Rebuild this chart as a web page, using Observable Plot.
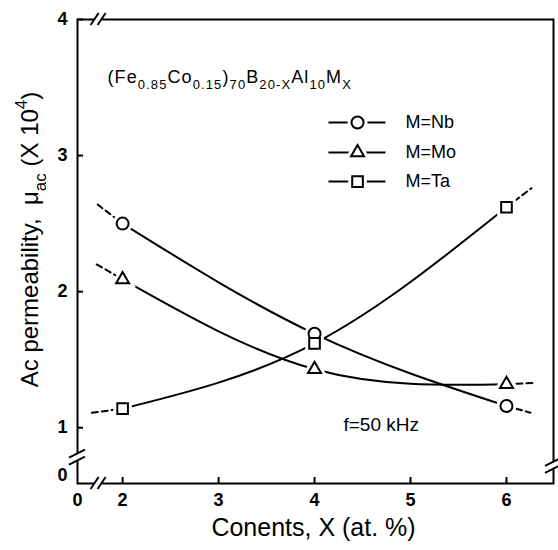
<!DOCTYPE html>
<html><head><meta charset="utf-8">
<script src="https://cdn.jsdelivr.net/npm/d3@7"></script>
<script src="https://cdn.jsdelivr.net/npm/@observablehq/plot@0.6"></script>
<style>
body{margin:0;background:#fff}
#chart svg{font-family:"Liberation Sans",Arial,sans-serif}
</style>
</head><body><div id="chart"></div>
<script>
// ---- data ----
const contents = [2, 4, 6];
const seriesNames = ["M=Nb", "M=Mo", "M=Ta"];
const symbolNames = ["circle", "triangle", "square"];
const nbValues = [2.50, 1.69, 1.16];
const moValues = [2.09, 1.43, 1.32];
const taValues = [1.14, 1.62, 2.62];
// dashed extrapolations: [left end, right end] as [x, y]
const nbExt = [[1.74, 2.64], [6.25, 1.11]];
const moExt = [[1.73, 2.20], [6.30, 1.33]];
const taExt = [[1.68, 1.11], [6.26, 2.76]];
const xTicks = [2, 3, 4, 5, 6];
const yTicks = [1, 2, 3, 4];
const xDomain = [1.53, 6.49];
const yDomain = [0.59, 4];
// broken-axis marks (data positions)
const xBreak = 1.75;
const yBreakLeft = 0.78;
const yBreakRight = 0.72;
// legend placement (data coords)
const legendY = [3.243, 3.023, 2.809];
const legendX = {start: 4.145, marker: 4.448, end: 4.739, text: 4.948};
// marker radii per symbol
const markerR = [6, 4.8, 6];

// ---- tables ----
const seriesVals = [nbValues, moValues, taValues];
const seriesExt = [nbExt, moExt, taExt];
const points = seriesNames.flatMap((name, k) =>
  contents.map((c, i) => ({series: name, x: c, y: seriesVals[k][i]})));
const extRows = seriesNames.flatMap((name, k) => {
  const v = seriesVals[k], e = seriesExt[k];
  return [
    {z: name + "L", x: e[0][0], y: e[0][1]},
    {z: name + "L", x: contents[0], y: v[0]},
    {z: name + "R", x: contents[contents.length - 1], y: v[v.length - 1]},
    {z: name + "R", x: e[1][0], y: e[1][1]}
  ];
});
const legendRows = seriesNames.map((name, i) => ({name, ly: legendY[i]}));

const W = 558, H = 550, mL = 77, mR = 5, mT = 19, mB = 67;
const plotW = W - mL - mR, plotH = H - mT - mB;

function markerMarks(halo) {
  return seriesNames.flatMap((name, k) => {
    const opts = halo
      ? {symbol: symbolNames[k], r: markerR[k], fill: "white", stroke: "white", strokeWidth: 8}
      : {symbol: symbolNames[k], r: markerR[k], fill: "white", stroke: "black", strokeWidth: 2};
    return [
      Plot.dot(points.filter(d => d.series === name), {x: "x", y: "y", ...opts}),
      Plot.dot(legendRows.filter(d => d.name === name), {x: () => legendX.marker, y: "ly", ...opts})
    ];
  });
}

const chart = Plot.plot({
  width: W, height: H,
  marginLeft: mL, marginRight: mR, marginTop: mT, marginBottom: mB,
  style: {background: "white", fontFamily: "Liberation Sans, Arial, sans-serif", color: "black"},
  x: {domain: xDomain},
  y: {domain: yDomain},
  marks: [
    Plot.frame({stroke: "black", strokeWidth: 2}),
    Plot.tickX(xTicks, {x: d => d, insetTop: plotH - 6, strokeWidth: 2}),
    Plot.tickY(yTicks, {y: d => d, insetRight: plotW - 6, strokeWidth: 2}),
    Plot.axisX({ticks: xTicks, tickSize: 0, tickPadding: 10, tickFormat: d => String(d), fontSize: 18, fontWeight: "bold", label: null}),
    Plot.axisY({ticks: yTicks, tickSize: 0, tickPadding: 10, tickFormat: d => String(d), fontSize: 18, fontWeight: "bold", label: null}),
    Plot.text(["0"], {frameAnchor: "bottom-left", textAnchor: "middle", lineAnchor: "top", dy: 10, fontSize: 18, fontWeight: "bold"}),
    Plot.text(["0"], {frameAnchor: "bottom-left", dx: -10, dy: -3, textAnchor: "end", fontSize: 18, fontWeight: "bold"}),
    // curves
    Plot.line(points, {x: "x", y: "y", z: "series", curve: "natural", stroke: "black", strokeWidth: 2}),
    Plot.line(extRows, {x: "x", y: "y", z: "z", stroke: "black", strokeWidth: 2, strokeDasharray: "6,4"}),
    // legend lines
    Plot.link(legendRows, {x1: () => legendX.start, x2: () => legendX.end, y1: "ly", y2: "ly", stroke: "black", strokeWidth: 2}),
    // halos + markers
    ...markerMarks(true),
    ...markerMarks(false),
    Plot.text(legendRows, {x: () => legendX.text, y: "ly", text: "name", textAnchor: "start", fontSize: 18, letterSpacing: 1}),
    // annotations
    Plot.text(["FORMULA"], {frameAnchor: "top-left", dx: 30, dy: 51, textAnchor: "start", fontSize: 18}),
    Plot.text(["f=50 kHz"], {frameAnchor: "bottom-left", dx: 266, dy: -53, textAnchor: "start", fontSize: 19, letterSpacing: 0.8}),
    Plot.text(["Conents, X (at. %)"], {frameAnchor: "bottom", textAnchor: "middle", dx: -2, dy: 52, fontSize: 25}),
    Plot.text(["YLABEL"], {frameAnchor: "left", textAnchor: "middle", dx: -47, dy: -12, rotate: -90, fontSize: 24})
  ]
});
document.getElementById("chart").append(chart);

// ---- rich text (sub/superscripts) ----
function rich(placeholder, segs, base) {
  d3.select(chart).selectAll("text").filter(function() { return this.textContent === placeholder; })
    .each(function() {
      const t = d3.select(this);
      t.text(null);
      let shift = 0;
      for (const [s, kind] of segs) {
        const target = kind === "sub" ? 0.32 : kind === "sup" ? -0.45 : 0;
        const ts = t.append("tspan").text(s);
        const dy = (target - shift) * base;
        if (dy) ts.attr("dy", dy);
        if (kind) ts.attr("font-size", Math.round(base * 0.7));
        shift = target;
      }
    });
}
rich("FORMULA", [["(Fe"], ["0.85", "sub"], ["Co"], ["0.15", "sub"], [")"], ["70", "sub"], ["B"], ["20-X", "sub"], ["Al"], ["10", "sub"], ["M"], ["X", "sub"]], 18);
d3.select(chart).selectAll("text").filter(function(){return this.textContent.startsWith("(Fe");}).attr("letter-spacing", 1.1);
rich("YLABEL", [["Ac permeability,  μ"], ["ac", "sub"], [" (X 10"], ["4", "sup"], [")"]], 24);

// ---- axis breaks ----
const sx = chart.scale("x"), sy = chart.scale("y");
const svg = d3.select(chart);
const g = svg.append("g");
const x0 = mL, x1 = W - mR, y0 = mT, y1 = H - mB;
function hBreak(cx, cy) {
  g.append("rect").attr("x", cx - 4).attr("y", cy - 3).attr("width", 8).attr("height", 6).attr("fill", "white");
  for (const o of [-3.5, 3.5]) {
    g.append("line").attr("x1", cx + o - 4).attr("y1", cy + 6).attr("x2", cx + o + 4).attr("y2", cy - 6)
      .attr("stroke", "black").attr("stroke-width", 2);
  }
}
function vBreak(cx, cy) {
  g.append("rect").attr("x", cx - 3).attr("y", cy - 4).attr("width", 6).attr("height", 8).attr("fill", "white");
  for (const o of [-3.5, 3.5]) {
    g.append("line").attr("x1", cx - 8).attr("y1", cy + o + 4).attr("x2", cx + 8).attr("y2", cy + o - 4)
      .attr("stroke", "black").attr("stroke-width", 2);
  }
}
hBreak(sx.apply(xBreak), y0);
hBreak(sx.apply(xBreak), y1);
vBreak(x0, sy.apply(yBreakLeft));
vBreak(x1, sy.apply(yBreakRight));
</script>
</body></html>
